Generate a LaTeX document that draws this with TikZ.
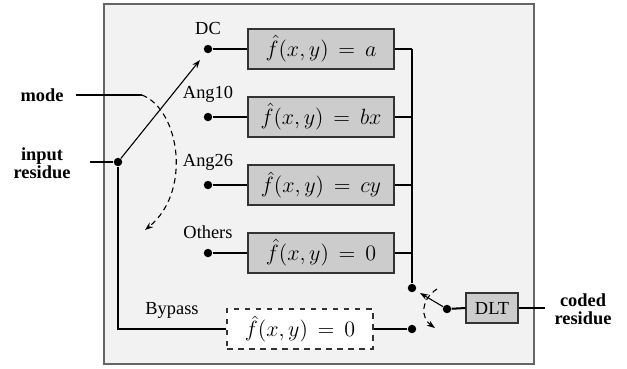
\documentclass[tikz,border=0pt]{standalone}
\usepackage{fontspec}
\setmainfont{Liberation Serif}
\usepackage{amsmath}
\usetikzlibrary{arrows.meta,positioning,calc}

\begin{document}
\begin{tikzpicture}[
    x=0.544pt, y=-0.544pt,
    dot/.style={circle, fill=black, inner sep=0pt, minimum size=4.6pt},
    fbox/.style={rectangle, draw=black!80, fill=black!20, line width=0.6pt, minimum width=79.4pt, minimum height=21.8pt, font=\large},
    bybox/.style={fbox, fill=white, dashed},
    dltbox/.style={rectangle, draw=black!80, fill=black!20, line width=0.6pt, minimum width=28.3pt, minimum height=16.3pt},
    lbl/.style={inner sep=1pt},
    side/.style={align=center, font=\bfseries},
    wire/.style={line width=0.6pt},
    bus/.style={line width=1.1pt},
    arr/.style={-{Stealth[length=4.5pt, width=3.2pt]}, line width=0.6pt},
    sweep/.style={-{Stealth[length=4.5pt, width=3.2pt]}, line width=0.6pt, dash pattern=on 3pt off 2.2pt}
]
    \useasboundingbox (0,0) rectangle (627,368);
    \draw [draw=black!60, fill=black!5, line width=0.8pt] (104,4) rectangle (534,364);

    \node [dot] (in) at (118,162) {};
    \node [dot] (d1) at (208,49) {};
    \node [dot] (d2) at (208,117) {};
    \node [dot] (d3) at (208,185) {};
    \node [dot] (d4) at (208,253) {};
    \node [dot] (o1) at (412,288) {};
    \node [dot] (o2) at (412,329) {};
    \node [dot] (sw) at (447,309) {};

    \node [lbl, above=4pt of d1] {DC};
    \node [lbl, above=4pt of d2] {Ang10};
    \node [lbl, above=4pt of d3] {Ang26};
    \node [lbl, above=4pt of d4] {Others};
    \node [lbl] at (172,310) {Bypass};

    \node [fbox] (b1) at (321,49) {$\hat{f}(x,y)\,=\,a$};
    \node [fbox] (b2) at (321,117) {$\hat{f}(x,y)\,=\,bx$};
    \node [fbox] (b3) at (321,185) {$\hat{f}(x,y)\,=\,cy$};
    \node [fbox] (b4) at (321,253) {$\hat{f}(x,y)\,=\,0$};
    \node [bybox] (b5) at (300,329) {$\hat{f}(x,y)\,=\,0$};
    \node [dltbox] (dlt) at (492,308) {DLT};

    \node [side] (mode) at (42,95) {mode};
    \node [side] (inres) at (42,163) {input\\[-2pt]residue};
    \node [side] (outres) at (583,309) {coded\\[-2pt]residue};

    \coordinate (mend) at (142,95);
    \coordinate (tipi) at (200,60);
    \coordinate (tipo) at (420,293);
    \coordinate (bustop) at (412,49);

    % input switch
    \draw [bus] (mode.east) ++(6,0) -- (mend);
    \draw [bus] (90,162) -- (in);
    \draw [arr] (in) -- (tipi);
    \draw [sweep] (mend) .. controls (180,110) and (192,192) .. (145,230);

    \foreach \i in {1,...,4}
        \draw [wire] (d\i) -- (b\i.west);
    \draw [wire] (in) |- (b5.west);
    \draw [wire] (b5.east) -- (o2);

    % output side
    \foreach \i in {1,...,4}
        \draw [wire] (b\i.east) -- (b\i.east -| bustop);
    \draw [bus] (bustop) -- (o1);
    \draw [arr] (sw) -- (tipo);
    \draw [sweep] (437,289) .. controls (420,300) and (421,318) .. (435,328);
    \draw [bus] (sw) -- (dlt.west);
    \draw [bus] (dlt.east) -- (545,308);
\end{tikzpicture}
\end{document}
